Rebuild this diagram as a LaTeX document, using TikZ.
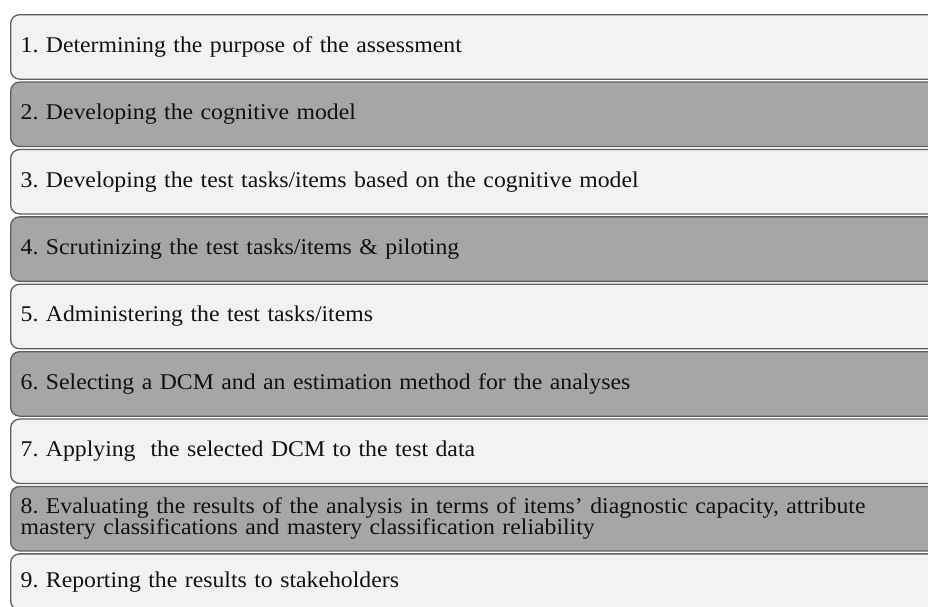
\documentclass[tikz,border=0pt]{standalone}
\usepackage{fontspec}
\setmainfont[FakeStretch=1.055]{Liberation Serif}
\frenchspacing
\definecolor{boxlight}{HTML}{F2F2F2}
\definecolor{boxdark}{HTML}{A6A6A6}
\definecolor{boxline}{HTML}{5E5E5E}
\definecolor{txt}{HTML}{111111}
\begin{document}
\begin{tikzpicture}[x=1pt,y=-1pt,
  stepbox/.style={draw=boxline, line width=1.3pt, rounded corners=9pt,
    anchor=north west, minimum width=940pt, text width=920pt, inner xsep=9pt,
    align=left, text=txt, font=\fontsize{22.5}{21.5}\selectfont\frenchspacing},
  lightbox/.style={stepbox, fill=boxlight},
  darkbox/.style={stepbox, fill=boxdark}]
\useasboundingbox (0,0) rectangle (928,606);
\fill[white] (0,0) rectangle (928,606);
\clip (0,0) rectangle (928,606);
\node[lightbox, minimum height=64.5pt] (s1) at (10,14) {1. Determining the purpose of the assessment};
\node[darkbox, minimum height=64.5pt] (s2) at (10,81.4) {2. Developing the cognitive model};
\node[lightbox, minimum height=64.5pt] (s3) at (10,148.8) {3. Developing the test tasks/items based on the cognitive model};
\node[darkbox, minimum height=64.5pt] (s4) at (10,216.2) {4. Scrutinizing the test tasks/items \& piloting};
\node[lightbox, minimum height=64.5pt] (s5) at (10,283.6) {5. Administering the test tasks/items};
\node[darkbox, minimum height=64.5pt] (s6) at (10,351) {6. Selecting a DCM and an estimation method for the analyses};
\node[lightbox, minimum height=64.5pt] (s7) at (10,418.4) {7. Applying\ \ the selected DCM to the test data};
\node[darkbox, minimum height=64.5pt] (s8) at (10,485.8) {8. Evaluating the results of the analysis in terms of items’ diagnostic capacity, attribute\\mastery classifications and mastery classification reliability};
\node[lightbox, minimum height=56pt] (s9) at (10,553.2) {9. Reporting the results to stakeholders};
\end{tikzpicture}
\end{document}
